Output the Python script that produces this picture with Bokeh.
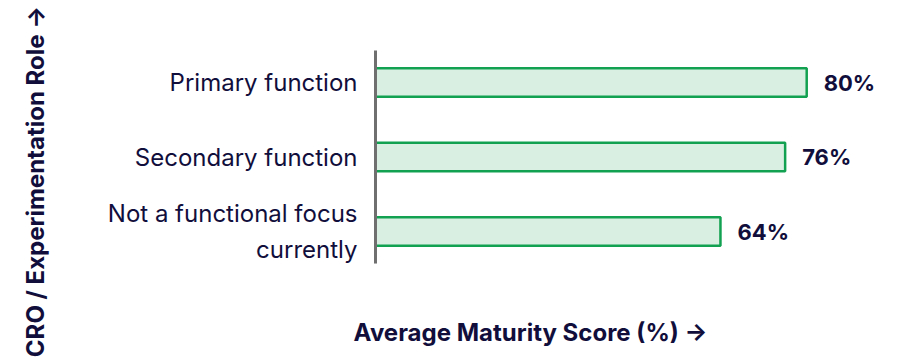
import math
from bokeh.plotting import figure
from bokeh.models import Range1d, Label, ColumnDataSource
from bokeh.core.properties import value
from bokeh.embed import file_html
from bokeh.resources import INLINE

# Data (bottom to top)
roles = ["Not a functional focus\ncurrently", "Secondary function", "Primary function"]
scores = [64, 76, 80]
score_labels = ["64%", "76%", "80%"]

x_title = "Average Maturity Score (%) \u2192"
y_title = "CRO / Experimentation Role \u2192"

NAVY = "#110e3c"
GREEN = "#12a150"
FILL = "#d9efe2"
AXIS = "#6f6f6f"

W, H = 899, 358
PX_X = 5.39    # pixels per score unit
PX_Y = 74.5    # pixels per category
X0 = 375       # pixel of score 0
Y_TOP = 82     # pixel centre of top category

n = len(roles)
ypos = list(range(n))

p = figure(
    width=W, height=H,
    x_range=Range1d(-X0 / PX_X, (W - X0) / PX_X),
    y_range=Range1d(-(H - (Y_TOP + (n - 1) * PX_Y)) / PX_Y, (n - 1) + Y_TOP / PX_Y),
    output_backend="svg", toolbar_location=None,
    x_axis_location=None, y_axis_location=None,
    min_border=0,
)
p.outline_line_color = None
p.grid.visible = False
p.background_fill_color = "white"
p.border_fill_color = "white"

src = ColumnDataSource(dict(y=ypos, role=roles, score=scores, label=score_labels,
                            zero=[0] * n))

p.hbar(y="y", right="score", left="zero", height=0.38, source=src,
       fill_color=FILL, line_color=GREEN, line_width=2.5)

# vertical axis line
p.segment(x0=[0], y0=[-0.43], x1=[0], y1=[(n - 1) + 0.43],
          line_color=AXIS, line_width=3)

# category labels
p.text(x="zero", y="y", text="role", source=src, x_offset=-18,
       text_align="right", text_baseline="middle",
       text_font=value("Inter"), text_font_size="24px",
       text_line_height=1.24, text_color=NAVY)

# value labels
p.text(x="score", y="y", text="label", source=src, x_offset=17,
       text_baseline="middle", text_align="left",
       text_font=value("Inter"), text_font_style="bold",
       text_font_size="22px", text_color=NAVY)

p.add_layout(Label(x=35, y=H - 181, x_units="screen", y_units="screen",
                   text=y_title, angle=math.pi / 2,
                   text_align="center", text_baseline="middle",
                   text_font="Inter", text_font_style="bold",
                   text_font_size="24px", text_color=NAVY))
p.add_layout(Label(x=530, y=H - 332, x_units="screen", y_units="screen",
                   text=x_title,
                   text_align="center", text_baseline="middle",
                   text_font="Inter", text_font_style="bold",
                   text_font_size="24px", text_color=NAVY))

open("out.html", "w").write(file_html(p, INLINE))
